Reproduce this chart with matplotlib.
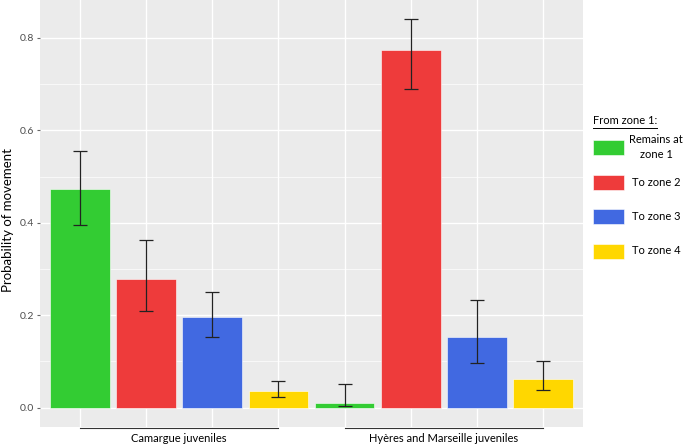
import numpy as np
import matplotlib
matplotlib.use("Agg")
import matplotlib.pyplot as plt
from matplotlib.patches import Rectangle
from matplotlib.lines import Line2D

plt.rcParams['font.family'] = ['Lato', 'DejaVu Sans']

# data
groups = ["Camargue juveniles", "Hyères and Marseille juveniles"]
categories = ["Remains at\nzone 1", "To zone 2", "To zone 3", "To zone 4"]
colours = ["#33CC33", "#EE3B3B", "#4169E1", "#FFD700"]

camargue = [0.474, 0.279, 0.197, 0.036]
camargue_low = [0.395, 0.208, 0.152, 0.023]
camargue_high = [0.555, 0.362, 0.250, 0.057]

hyeres = [0.010, 0.773, 0.152, 0.062]
hyeres_low = [0.003, 0.689, 0.096, 0.038]
hyeres_high = [0.051, 0.840, 0.232, 0.101]

yticks = [0.0, 0.2, 0.4, 0.6, 0.8]

values = np.array(camargue + hyeres)
low = np.array(camargue_low + hyeres_low)
high = np.array(camargue_high + hyeres_high)
x = np.arange(1, len(values) + 1)
bar_colours = colours * len(groups)


def fx(px):
    return px / 685


def fy(py):
    return 1 - py / 446


fig = plt.figure(figsize=(6.85, 4.46), dpi=100)
ax = fig.add_axes([40 / 685, 19 / 446, 543 / 685, 427 / 446])
ax.set_facecolor("#EBEBEB")

ax.bar(x, values, width=0.9, color=bar_colours, edgecolor="white",
       linewidth=0.4, zorder=2)
ax.errorbar(x, values, yerr=[values - low, high - values], fmt="none",
            ecolor="#222222", elinewidth=0.9, capsize=4.8, capthick=0.9,
            zorder=3)

ax.set_xlim(0.4, 8.6)
ax.set_ylim(-0.042, 0.882)
ax.set_yticks(yticks)
ax.set_yticklabels([f"{v:.1f}" for v in yticks], fontsize=7.5, color="#4D4D4D")
ax.set_yticks(np.array(yticks[:-1]) + 0.1, minor=True)
ax.set_xticks(x)
ax.set_xticklabels([])
ax.tick_params(axis="y", which="major", length=2.5, color="#666666", pad=2)
ax.tick_params(axis="y", which="minor", length=0)
ax.tick_params(axis="x", length=0)
ax.grid(True, which="major", color="white", linewidth=1.0, zorder=0)
ax.grid(True, which="minor", axis="y", color="white", linewidth=0.5, zorder=0)
ax.set_axisbelow(True)
for s in ax.spines.values():
    s.set_visible(False)

# y label placed on the figure so it is not clipped
fig.text(fx(8), fy(220), "Probability of movement", rotation=90,
         ha="center", va="center", fontsize=9.5)

# group brackets under the panel
n = len(categories)
for i, g in enumerate(groups):
    x0, x1 = x[i * n], x[i * n + n - 1]
    ax.plot([x0, x1], [-0.045, -0.045], color="#333333", linewidth=0.8,
            clip_on=False)
    xc = ax.transData.transform(((x0 + x1) / 2, 0))[0] / fig.bbox.width
    fig.text(xc, fy(438), g, ha="center", va="center", fontsize=8)

# legend drawn by hand
title = fig.text(fx(593), fy(120), "From zone 1:", ha="left", va="center",
                 fontsize=8)
fig.canvas.draw()
bb = title.get_window_extent().transformed(fig.transFigure.inverted())
fig.add_artist(Line2D([bb.x0, bb.x1], [fy(127.5), fy(127.5)],
                      transform=fig.transFigure, color="black", linewidth=0.7))

key_y = [147, 183, 217, 251]
for yy, c, lab in zip(key_y, colours, categories):
    fig.add_artist(Rectangle((fx(593), fy(yy + 7.5)), fx(31), 15 / 446,
                             transform=fig.transFigure, facecolor=c,
                             edgecolor="white", linewidth=0.4))
    fig.text(fx(656), fy(yy), lab, ha="center", va="center", fontsize=8,
             linespacing=1.4)

fig.savefig("out.png", dpi=100)
